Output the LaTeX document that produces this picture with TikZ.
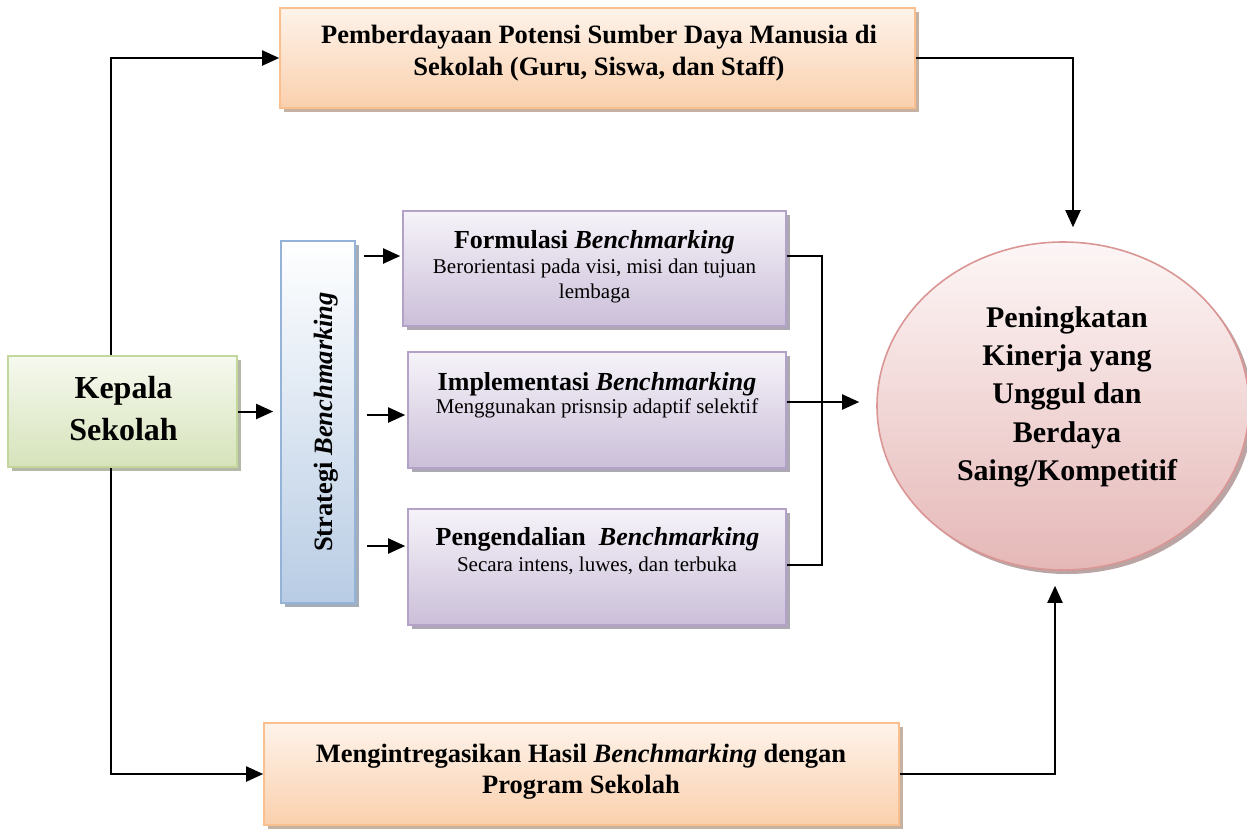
\documentclass[tikz,border=0pt]{standalone}
\usepackage{fontspec}
\setmainfont{Liberation Serif}
\usetikzlibrary{shapes.geometric,shadows,arrows.meta}
\definecolor{orD}{HTML}{F9BF8E}
\definecolor{orT}{HTML}{FEF3EA}
\definecolor{orB}{HTML}{FAD0AD}
\definecolor{grD}{HTML}{C3D69B}
\definecolor{grT}{HTML}{F6F9EF}
\definecolor{grB}{HTML}{D6E3BA}
\definecolor{blD}{HTML}{95B3D7}
\definecolor{blT}{HTML}{FFFFFF}
\definecolor{blB}{HTML}{B8CCE4}
\definecolor{puD}{HTML}{B3A2C7}
\definecolor{puT}{HTML}{F6F3F9}
\definecolor{puB}{HTML}{CBBFD9}
\definecolor{pkD}{HTML}{D99694}
\definecolor{pkT}{HTML}{FDF6F6}
\definecolor{pkB}{HTML}{E5B8B7}
\newcommand{\myfs}[2]{\fontsize{#1}{#2}\selectfont}
\begin{document}
\begin{tikzpicture}[x=1pt,y=-1pt,
  boxbase/.style={rectangle, inner sep=0pt, line width=1.6pt},
  obox/.style={boxbase, draw=orD, top color=orT, bottom color=orB,
    drop shadow={shadow xshift=4pt, shadow yshift=-4pt, fill=orD!60!black, opacity=0.55}},
  gbox/.style={boxbase, draw=grD, top color=grT, bottom color=grB,
    drop shadow={shadow xshift=4pt, shadow yshift=-4pt, fill=grD!60!black, opacity=0.55}},
  bbox/.style={boxbase, draw=blD, top color=blT, bottom color=blB,
    drop shadow={shadow xshift=4pt, shadow yshift=-4pt, fill=blD!60!black, opacity=0.55}},
  vbox/.style={boxbase, draw=puD, top color=puT, bottom color=puB,
    drop shadow={shadow xshift=4pt, shadow yshift=-4pt, fill=puD!60!black, opacity=0.55}},
  pell/.style={ellipse, inner sep=0pt, line width=1.6pt, draw=pkD, top color=pkT, bottom color=pkB,
    drop shadow={shadow xshift=4pt, shadow yshift=-4pt, fill=pkD!60!black, opacity=0.55}},
  txt/.style={inner sep=0pt, anchor=base},
  conn/.style={line width=2pt, black},
  arr/.style={conn, -{Triangle[length=17pt,width=15pt]}}
]
\useasboundingbox (0,0) rectangle (1247,828);

% boxes
\node[obox, minimum width=635pt, minimum height=100pt] (top) at (597.5,58) {};
\node[gbox, minimum width=229pt, minimum height=111pt] (kep) at (122.5,411.5) {};
\node[bbox, minimum width=74pt, minimum height=362pt] (str) at (318,422) {};
\node[vbox, minimum width=383pt, minimum height=115pt] (form) at (594.5,268.5) {};
\node[vbox, minimum width=378pt, minimum height=116pt] (impl) at (597,410) {};
\node[vbox, minimum width=378pt, minimum height=116pt] (peng) at (597,567) {};
\node[pell, minimum width=372pt, minimum height=328pt] (ell) at (1063,406) {};
\node[obox, minimum width=635pt, minimum height=102pt] (bot) at (581.5,774) {};

% texts
\node[txt, font=\myfs{26.5}{30}\bfseries] (top1) at (599,43) {Pemberdayaan Potensi Sumber Daya Manusia di};
\node[txt, font=\myfs{26.5}{30}\bfseries] (top2) at (599,75) {Sekolah (Guru, Siswa, dan Staff)};

\node[txt, font=\myfs{32}{36}\bfseries] (kep1) at (123.5,398) {Kepala};
\node[txt, font=\myfs{32}{36}\bfseries] (kep2) at (123.5,440) {Sekolah};

\node[txt, rotate=90, font=\myfs{26.5}{30}\bfseries] (strt) at (332,422) {Strategi \textit{Benchmarking}};

\node[txt, font=\myfs{26}{30}\bfseries] (form1) at (594.5,248) {Formulasi \textit{Benchmarking}};
\node[txt, font=\myfs{21}{24}] (form2) at (594.5,273) {Berorientasi pada visi, misi dan tujuan};
\node[txt, font=\myfs{21}{24}] (form3) at (594.5,298) {lembaga};

\node[txt, font=\myfs{26}{30}\bfseries] (impl1) at (597,390) {Implementasi \textit{Benchmarking}};
\node[txt, font=\myfs{21}{24}] (impl2) at (597,413) {Menggunakan prisnsip adaptif selektif};

\node[txt, font=\myfs{26}{30}\bfseries] (peng1) at (597.5,545) {Pengendalian~ \textit{Benchmarking}};
\node[txt, font=\myfs{21}{24}] (peng2) at (597,571) {Secara intens, luwes, dan terbuka};

\node[txt, font=\myfs{30}{34}\bfseries] (ell1) at (1067,327) {Peningkatan};
\node[txt, font=\myfs{30}{34}\bfseries] (ell2) at (1067,365) {Kinerja yang};
\node[txt, font=\myfs{30}{34}\bfseries] (ell3) at (1067,403) {Unggul dan};
\node[txt, font=\myfs{30}{34}\bfseries] (ell4) at (1067,442) {Berdaya};
\node[txt, font=\myfs{30}{34}\bfseries] (ell5) at (1067,480) {Saing/Kompetitif};

\node[txt, font=\myfs{26.5}{30}\bfseries] (bot1) at (581,762) {Mengintregasikan Hasil \textit{Benchmarking} dengan};
\node[txt, font=\myfs{26.5}{30}\bfseries] (bot2) at (581,793) {Program Sekolah};

% helper coordinates
\coordinate (kx) at (111,0);
\coordinate (ya) at (0,256);
\coordinate (yb) at (0,415);
\coordinate (yc) at (0,546);
\coordinate (yd) at (0,565);
\coordinate (ye) at (0,402);
\coordinate (bx) at (822,0);
\coordinate (rx1) at (1073,0);
\coordinate (rx2) at (1055,0);

% connectors
\draw[arr] (kep.north -| kx) |- (top.west);
\draw[arr] (kep.south -| kx) |- (bot.west);
\draw[arr, shorten >=7pt] (kep.east) -- (kep.east -| str.west);
\draw[arr, shorten <=8pt, shorten >=2pt] (str.east |- ya) -- (form.west |- ya);
\draw[arr, shorten <=11pt, shorten >=2pt] (str.east |- yb) -- (impl.west |- yb);
\draw[arr, shorten <=11pt, shorten >=2pt] (str.east |- yc) -- (peng.west |- yc);
\draw[conn] (form.east |- ya) -| (bx |- yd) -- (peng.east |- yd);
\draw[arr, shorten >=17pt] (impl.east |- ye) -- (ell.west |- ye);
\draw[arr, shorten >=14pt] (top.east) -| (rx1 |- ell.north);
\draw[arr, shorten >=15pt] (bot.east) -| (rx2 |- ell.south);
\end{tikzpicture}
\end{document}
